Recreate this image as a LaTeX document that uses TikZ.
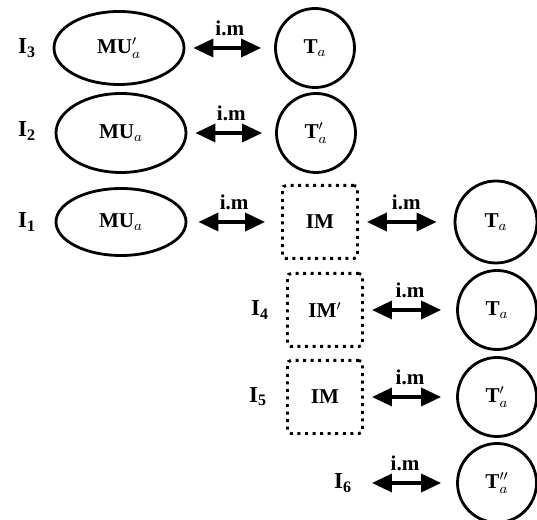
\documentclass[tikz,border=0pt]{standalone}
\usepackage{fontspec}
\setmainfont{Liberation Serif}
\usetikzlibrary{arrows.meta,shapes.geometric}
\tikzset{
	ellnode/.style={ellipse, draw, line width=1.6pt, minimum width=2.6cm, inner sep=0pt, font=\fontsize{12}{14}\bfseries},
	circnode/.style={circle, draw, line width=1.6pt, minimum size=1.58cm, inner sep=0pt, font=\fontsize{12}{14}\bfseries},
	imbox/.style={draw, line width=1.7pt, dash pattern=on 1.7pt off 2.6pt, rounded corners=2pt, minimum width=1.5cm, minimum height=1.46cm, inner sep=0pt, font=\fontsize{12}{14}\bfseries},
	rowlabel/.style={font=\fontsize{13}{15}\bfseries, inner sep=1pt},
	link/.style={line width=2pt, {Triangle[length=0.4cm, width=0.36cm]}-{Triangle[length=0.4cm, width=0.36cm]}, shorten <=0.16cm, shorten >=0.26cm},
	imlabel/.style={midway, above=6pt, font=\fontsize{12}{14}\bfseries, inner sep=0pt}
}
\begin{document}
\begin{tikzpicture}
			%%%%% START %%%%%
			\useasboundingbox (0, 0) rectangle (10.74, 10.4);
			
			% I3
			\node[rowlabel] (i3) at (0.54, 9.44) {I\textsubscript{3}};
			\node[ellnode, minimum height=1.46cm] (mu3) at (2.38, 9.44) {MU$'_a$};
			\node[circnode] (t3) at (6.3, 9.44) {T$_a$};
			\draw[link] (mu3) -- (t3) node[imlabel] {i.m};
			
			% I2
			\node[rowlabel] (i2) at (0.54, 7.78) {I\textsubscript{2}};
			\node[ellnode, minimum height=1.58cm] (mu2) at (2.42, 7.74) {MU$_a$};
			\node[circnode] (t2) at (6.32, 7.74) {T$'_a$};
			\draw[link] (mu2) -- (t2) node[imlabel] {i.m};
			
			% I1
			\node[rowlabel] (i1) at (0.54, 5.96) {I\textsubscript{1}};
			\node[ellnode, minimum height=1.34cm] (mu1) at (2.42, 5.96) {MU$_a$};
			\node[imbox] (im1) at (6.4, 5.96) {IM};
			\node[circnode, minimum size=1.64cm] (t1) at (9.92, 5.96) {T$_a$};
			\draw[link, shorten <=0.22cm, shorten >=0.32cm] (mu1) -- (im1) node[imlabel] {i.m};
			\draw[link, shorten >=0.34cm] (im1) -- (t1) node[imlabel] {i.m};
			
			% I4
			\node[rowlabel] (i4) at (5.2, 4.2) {I\textsubscript{4}};
			\node[imbox] (im4) at (6.5, 4.2) {IM$'$};
			\node[circnode] (t4) at (9.94, 4.2) {T$_a$};
			\draw[link, shorten >=0.3cm] (im4) -- (t4) node[imlabel] {i.m};
			
			% I5
			\node[rowlabel] (i5) at (5.16, 2.46) {I\textsubscript{5}};
			\node[imbox] (im5) at (6.5, 2.46) {IM};
			\node[circnode] (t5) at (9.94, 2.46) {T$'_a$};
			\draw[link, shorten >=0.3cm] (im5) -- (t5) node[imlabel] {i.m};
			
			% I6
			\node[rowlabel] (i6) at (6.86, 0.74) {I\textsubscript{6}};
			\node[circnode] (t6) at (9.94, 0.74) {T$''_a$};
			\draw[link, shorten <=0.36cm, shorten >=0.3cm] (i6) -- (t6) node[imlabel] {i.m};
			
			%%%%% END %%%%%
		\end{tikzpicture}
\end{document}
